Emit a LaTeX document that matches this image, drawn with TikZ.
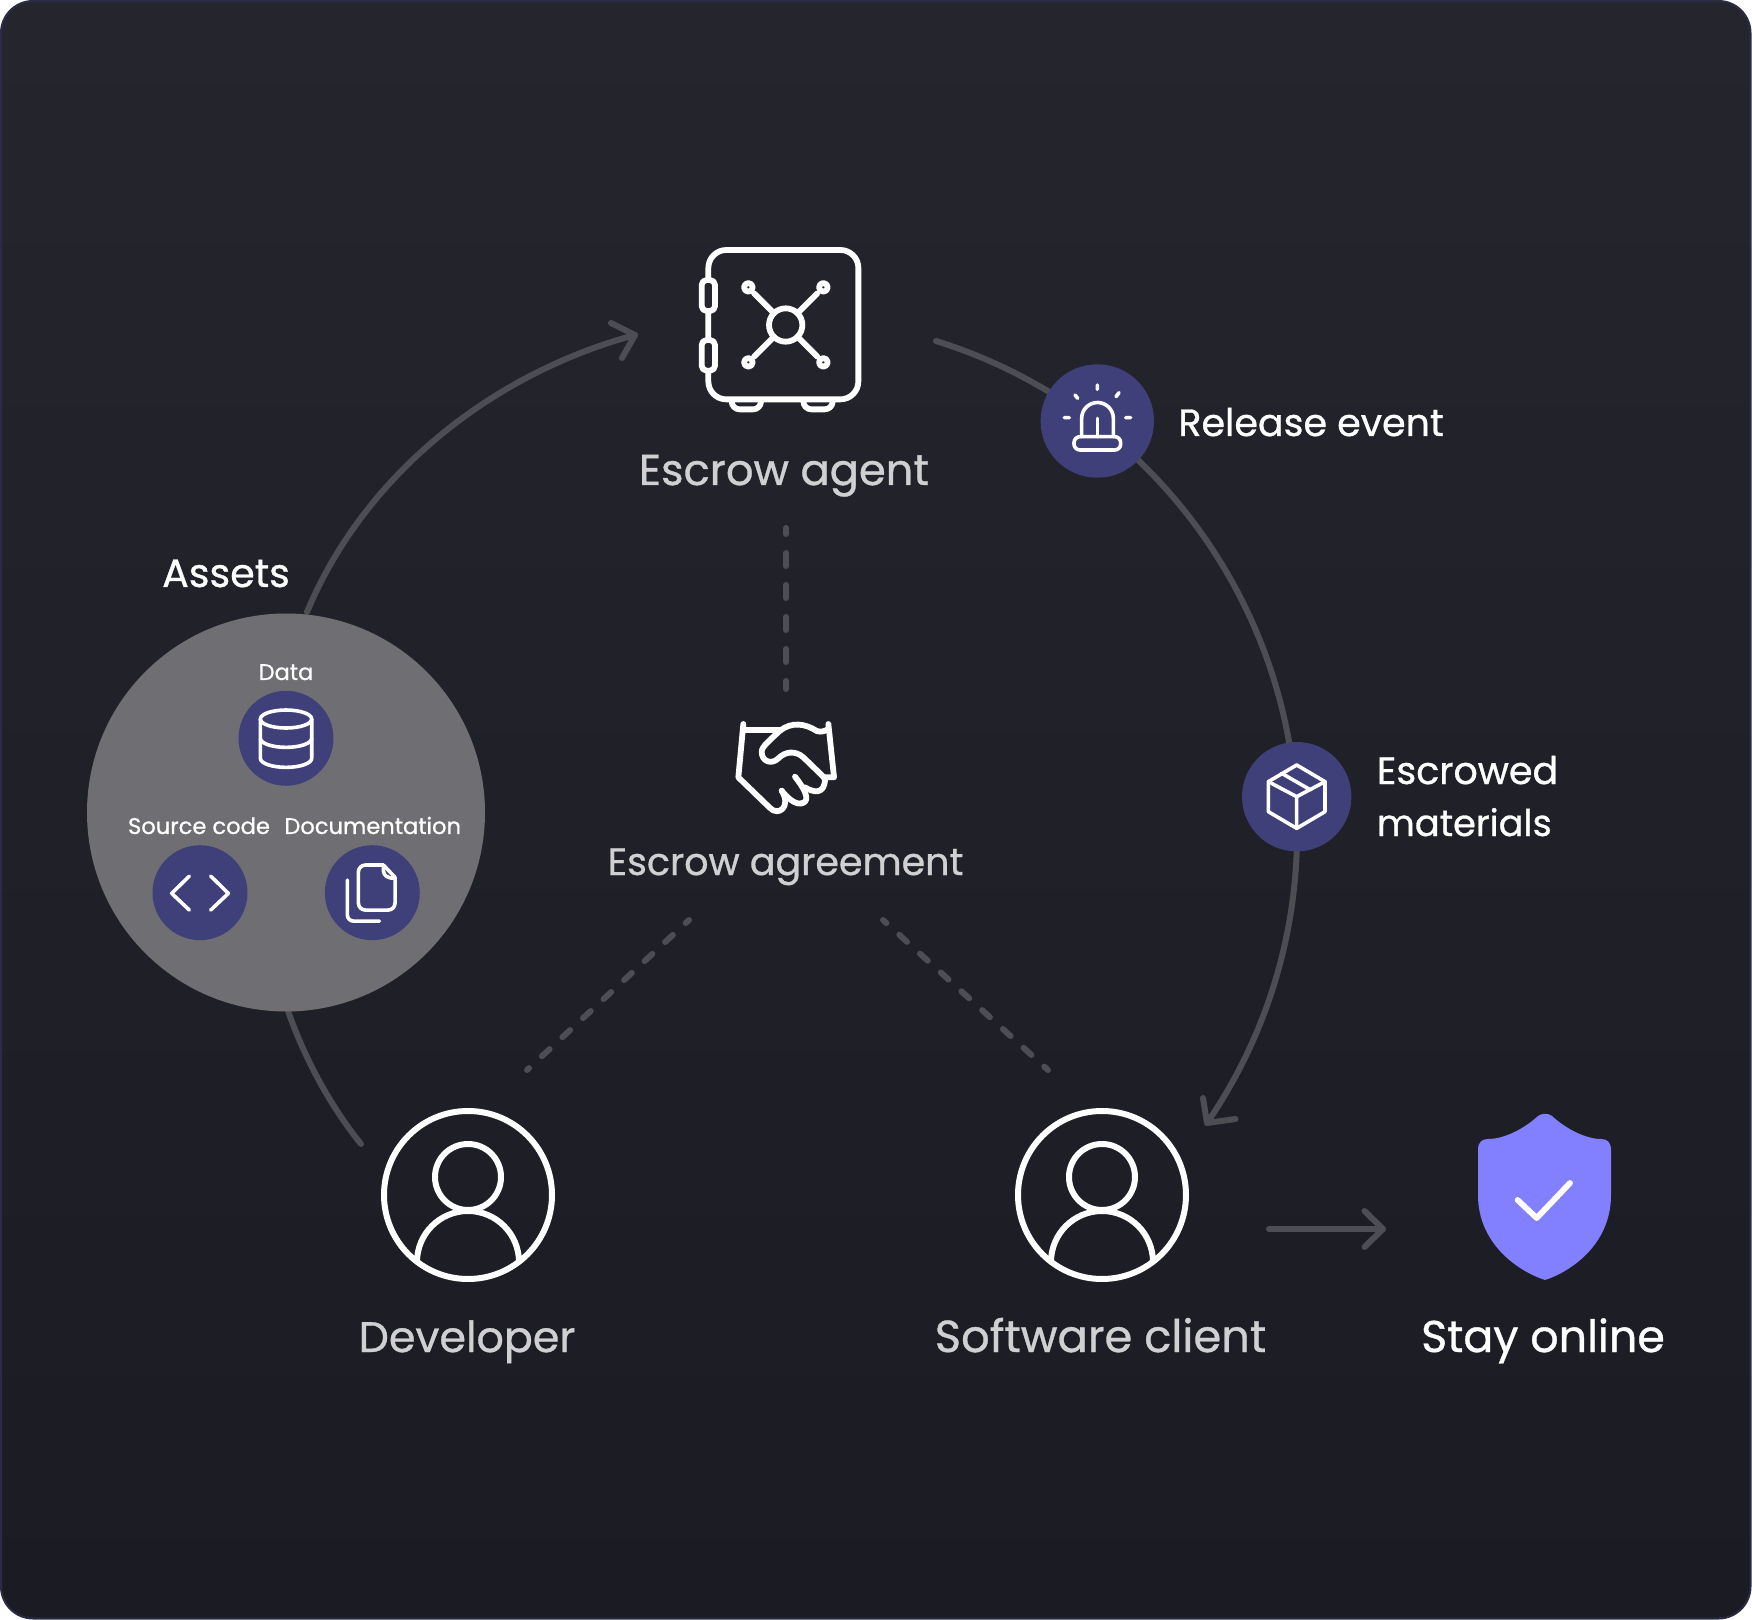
\documentclass[tikz,border=0pt]{standalone}
\usepackage{fontspec}
\setmainfont[FakeBold=0.8]{Poppins}
\definecolor{bgtop}{HTML}{25262D}
\definecolor{bgbot}{HTML}{1B1C23}
\definecolor{edgec}{HTML}{2A2C45}
\definecolor{linec}{HTML}{4D4E53}
\definecolor{navy}{HTML}{3F4079}
\definecolor{greyc}{HTML}{6F6F73}
\definecolor{soft}{HTML}{D0D0D2}
\definecolor{shieldc}{HTML}{8280FF}
\tikzset{
 flow/.style={draw=linec,line width=3pt,line cap=round,line join=round},
 dashv/.style={draw=linec,line width=3pt,line cap=round,dash pattern=on 6.5pt off 9.5pt,dash phase=3.5pt},
 dashd/.style={draw=linec,line width=3pt,line cap=round,dash pattern=on 5.25pt off 8.75pt,dash phase=3pt},
 ico/.style={draw=white,line width=2.9pt,line cap=round,line join=round},
 icos/.style={draw=white,line width=1.8pt,line cap=round,line join=round},
 disc/.style={circle,fill=navy,inner sep=0pt,minimum size=#1},
 big/.style={text=soft,inner sep=0pt,anchor=base},
 mid/.style={font=\fontsize{19}{23}\selectfont,text=white,inner sep=0pt,anchor=base west},
 small/.style={font=\fontsize{11.3}{14}\selectfont,text=white,inner sep=0pt,anchor=base},
}
\begin{document}
\begin{tikzpicture}[x=0.5pt,y=-0.5pt]
\useasboundingbox (0,0) rectangle (1752,1620);
\fill[white] (0,0) rectangle (1752,1620);
\shade[top color=bgtop,bottom color=bgbot,draw=edgec,line width=1pt,rounded corners=16pt] (1,1) rectangle (1750.5,1618.5);
% connector ends
\coordinate (a1) at (307,612);\coordinate (a2) at (635,335);
\coordinate (b1) at (936,341);\coordinate (bm) at (1268.7,663.8);\coordinate (b2) at (1207,1123);
\coordinate (c1) at (288,1011);\coordinate (c2) at (361,1144);
\coordinate (d1) at (786,528);\coordinate (d2) at (786,689);
\coordinate (e1) at (689,920);\coordinate (e2) at (527,1070);
\coordinate (f1) at (883,920);\coordinate (f2) at (1048,1070);
\coordinate (g1) at (1269,1229);\coordinate (g2) at (1383,1229);
\draw[flow] (a1) .. controls (365,473) and (494,373) .. (a2);
\draw[flow] (611,323) -- (a2) -- (622,358);
\draw[flow] (b1) .. controls (1092,389.5) and (1215.3,509.5) .. (bm) .. controls (1322.1,818.1) and (1299.4,988.4) .. (b2);
\draw[flow] (1203,1098) -- (b2) -- (1235.5,1119);
\draw[flow] (c1) .. controls (306,1062) and (332,1108) .. (c2);
\draw[dashv] (d1) -- (d2);
\draw[dashd] (e1) -- (e2);
\draw[dashd] (f1) -- (f2);
\draw[flow] (g1) -- (g2);
\draw[flow] (1364.5,1211) -- (g2) -- (1364.5,1247);
% Safe
\begin{scope}[shift={(680,230)},x=0.1667pt,y=-0.1667pt]
\draw[ico,rounded corners=9pt] (85,60) rectangle (535,508);
\draw[ico,fill=bgtop,rounded corners=2.5pt] (65,150) rectangle (105,243);
\draw[ico,fill=bgtop,rounded corners=2.5pt] (65,330) rectangle (105,422);
\draw[ico,rounded corners=4pt] (155,515) -- (155,538) -- (243,538) -- (243,515);
\draw[ico,rounded corners=4pt] (370,515) -- (370,538) -- (458,538) -- (458,515);
\draw[ico] (317,285) circle[radius=50];
\draw[ico] (282,250) -- (222,190);
\draw[ico] (352,250) -- (412,190);
\draw[ico] (282,320) -- (222,380);
\draw[ico] (352,320) -- (412,380);
\foreach \px/\py in {205/172,430/172,205/397,430/397} \draw[ico] (\px,\py) circle[radius=13];
\end{scope}
% Handshake
\begin{scope}[shift={(710,700)},x=0.1667pt,y=-0.1667pt]
\draw[ico] (100,72) -- (85,232) -- (178,322) .. controls (205,352) and (245,320) .. (215,272);
\draw[ico] (215,272) .. controls (245,310) and (265,312) .. (275,310) .. controls (295,305) and (298,285) .. (255,230);
\draw[ico] (285,262) .. controls (310,278) and (345,285) .. (345,235) -- (280,172) .. controls (255,150) and (225,155) .. (205,175) .. controls (185,195) and (155,185) .. (155,155) .. controls (155,140) and (180,120) .. (210,92) .. controls (245,65) and (285,70) .. (320,93) .. controls (335,98) and (345,92) .. (355,88);
\draw[ico] (100,90) -- (210,90);
\draw[ico] (355,72) -- (372,232) -- (340,232);
\end{scope}
% Release disc
\node[disc=56.7pt] (rel) at (1097.3,421) {};
\begin{scope}[shift={(1020,350)},x=0.1667pt,y=-0.1667pt]
\draw[icos] (185,260) -- (185,205) arc[start angle=180,end angle=360,radius=47.5] -- (280,260);
\draw[icos] (232,205) -- (232,260);
\draw[icos,rounded corners=3pt] (162,260) rectangle (302,300);
\draw[icos] (232,105) -- (232,118) (165,135) -- (173,145) (297,128) -- (288,140) (133,203) -- (148,203) (317,203) -- (332,203);
\end{scope}
% Box disc
\node[disc=54.7pt] (box) at (1296.7,796.7) {};
\begin{scope}[shift={(1230,730)},x=0.1667pt,y=-0.1667pt]
\draw[icos,line join=round] (200,105) -- (285,155) -- (285,245) -- (200,295) -- (115,245) -- (115,155) -- cycle;
\draw[icos] (115,155) -- (200,200) -- (285,155) (200,200) -- (200,295) (155,130) -- (242,180);
\end{scope}
% Assets
\node[circle,fill=greyc,inner sep=0pt,minimum size=199pt] (assets) at (286,812.5) {};
\node[disc=47.5pt] (dat) at (286,738.3) {};
\node[disc=47.5pt] (src) at (200,892.7) {};
\node[disc=47.5pt] (doc) at (372.3,892.7) {};
\begin{scope}[shift={(90,640)},x=0.1667pt,y=-0.1667pt]
\draw[icos] (588,237) ellipse[x radius=77,y radius=27];
\draw[icos] (511,237) -- (511,355) arc[start angle=180,end angle=0,x radius=77,y radius=27] -- (665,237);
\draw[icos] (511,295) arc[start angle=180,end angle=0,x radius=77,y radius=27];
\draw[icos] (298,708) -- (245,760) -- (298,810);
\draw[icos] (362,708) -- (415,760) -- (362,810);
\draw[icos,rounded corners=3.5pt] (880,675) -- (805,675) -- (805,810) -- (915,810) -- (915,712);
\draw[icos] (880,675) -- (915,712);
\draw[icos] (880,675) -- (880,692) .. controls (880,708) and (895,715) .. (915,715);
\draw[icos,rounded corners=3pt] (772,720) -- (772,843) -- (868,843);
\end{scope}
% Persons
\foreach \nm/\cx in {dev/468,cli/1102}{
 \node[circle,draw=white,line width=3pt,inner sep=0pt,minimum size=84pt] (\nm) at (\cx,1195) {};
 \begin{scope}[shift={(\cx,1195)}]
 \draw[ico,line width=3pt] (0,-18) circle[radius=33];
 \draw[ico,line width=3pt,line cap=butt] (-51,67) arc[start angle=180,end angle=360,radius=51];
 \end{scope}
}
% Shield
\fill[shieldc] (1545,1280) .. controls (1520,1272) and (1478,1245) .. (1478,1195) -- (1478,1150) .. controls (1478,1142) and (1482,1139) .. (1488,1139) .. controls (1505,1139) and (1525,1128) .. (1538,1116) .. controls (1542,1113) and (1548,1113) .. (1552,1116) .. controls (1565,1128) and (1585,1139) .. (1601,1139) .. controls (1607,1139) and (1611,1142) .. (1611,1150) -- (1611,1195) .. controls (1611,1245) and (1570,1272) .. (1545,1280) -- cycle;
\draw[ico] (1517.6,1200) -- (1536.7,1218) -- (1570,1183);
% Labels
\node[big,font=\fontsize{21.6}{25}\selectfont] (l1) at (784,485) {Escrow agent};
\node[big,font=\fontsize{19}{25}\selectfont] (l2) at (785.5,875) {Escrow agreement};
\node[big,font=\fontsize{21.4}{25}\selectfont] (l3) at (467,1352) {Developer};
\node[big,font=\fontsize{22.4}{25}\selectfont] (l4) at (1100.5,1352) {Software client};
\node[big,text=white,font=\fontsize{22.2}{25}\selectfont] (l5) at (1543,1352) {Stay online};
\node[mid] (l6) at (1178,436) {Release event};
\node[mid] (l7) at (1376.5,784) {Escrowed};
\node[mid,font=\fontsize{18.4}{23}\selectfont] (l8) at (1376.5,836) {materials};
\node[big,text=white,font=\fontsize{19.8}{23}\selectfont] (l9) at (226,587) {Assets};
\node[small] (l10) at (286,680) {Data};
\node[small] (l11) at (199,834) {Source code};
\node[small] (l12) at (372.7,834) {Documentation};
\end{tikzpicture}
\end{document}
